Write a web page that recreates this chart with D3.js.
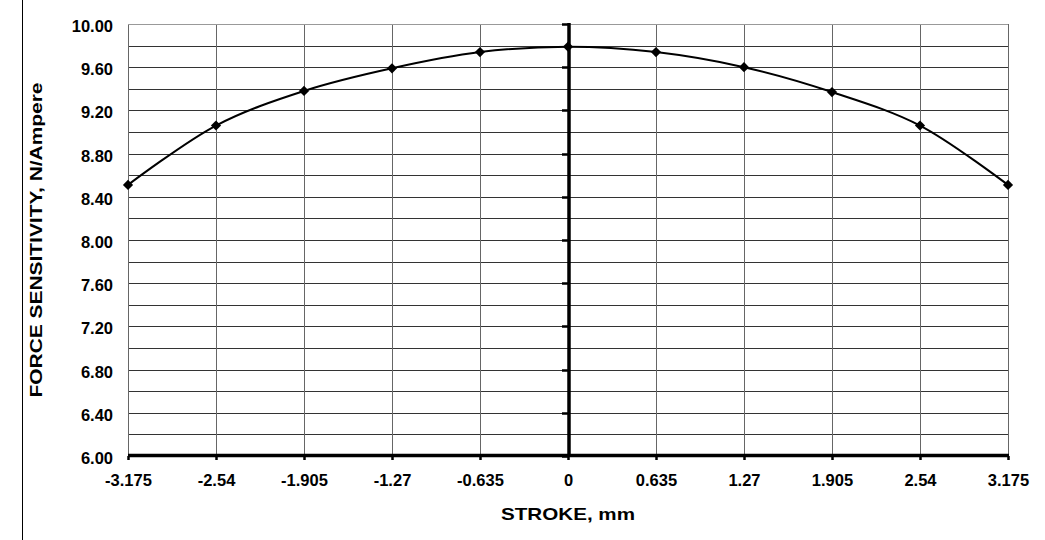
<!DOCTYPE html>
<html>
<head>
<meta charset="utf-8">
<script src="https://cdn.jsdelivr.net/npm/d3@7"></script>
<style>
  body { margin: 0; background: #fff; }
  text { font-family: "Liberation Sans", Arial, sans-serif; font-weight: bold; fill: #000; }
</style>
</head>
<body>
<div id="chart"></div>
<script>
// stroke positions (mm) and force sensitivity (N/Ampere)
var categories = ["-3.175", "-2.54", "-1.905", "-1.27", "-0.635", "0", "0.635", "1.27", "1.905", "2.54", "3.175"];
var values = [8.51, 9.06, 9.38, 9.59, 9.74, 9.79, 9.74, 9.60, 9.37, 9.06, 8.51];
var yLabels = [6.0, 6.4, 6.8, 7.2, 7.6, 8.0, 8.4, 8.8, 9.2, 9.6, 10.0];
var yGrid = [6.2, 6.4, 6.6, 6.8, 7.0, 7.2, 7.4, 7.6, 7.8, 8.0, 8.2, 8.4, 8.6, 8.8, 9.0, 9.2, 9.4, 9.6, 9.8];

var width = 1045, height = 540;
var plot = { left: 128, right: 1008, top: 24, bottom: 456 };

var svg = d3.select("#chart").append("svg")
    .attr("width", width)
    .attr("height", height);

var x = d3.scalePoint().domain(categories).range([plot.left, plot.right]);
var y = d3.scaleLinear().domain([6, 10]).range([plot.bottom, plot.top]);

// frame line on the far left
svg.append("line")
    .attr("x1", 22.5).attr("x2", 22.5)
    .attr("y1", 0).attr("y2", height)
    .attr("stroke", "#000").attr("stroke-width", 1);

// horizontal grid
svg.append("g").selectAll("line")
    .data(yGrid)
    .enter().append("line")
    .attr("x1", plot.left).attr("x2", plot.right)
    .attr("y1", function(d){ return Math.round(y(d)) + 0.5; })
    .attr("y2", function(d){ return Math.round(y(d)) + 0.5; })
    .attr("stroke", "#333").attr("stroke-width", 1);

// vertical grid
svg.append("g").selectAll("line")
    .data(categories)
    .enter().append("line")
    .attr("x1", function(d){ return Math.round(x(d)) + 0.5; })
    .attr("x2", function(d){ return Math.round(x(d)) + 0.5; })
    .attr("y1", plot.top).attr("y2", plot.bottom)
    .attr("stroke", "#666").attr("stroke-width", 1);

// top border
svg.append("line")
    .attr("x1", plot.left).attr("x2", plot.right)
    .attr("y1", plot.top + 0.5).attr("y2", plot.top + 0.5)
    .attr("stroke", "#999");

// y labels
var yAxis = svg.append("g")
    .attr("transform", "translate(" + plot.left + ",0)")
    .call(d3.axisLeft(y).tickValues(yLabels).tickFormat(d3.format(".2f")).tickSize(0).tickPadding(15));
yAxis.select(".domain").remove();
yAxis.selectAll("text")
    .attr("dy", "0.46em")
    .style("font-size", "16.5px")
    .style("font-family", "'Liberation Sans', Arial, sans-serif")
    .style("font-weight", "bold");

// x labels
var xAxis = svg.append("g")
    .attr("transform", "translate(0," + plot.bottom + ")")
    .call(d3.axisBottom(x).tickSize(0).tickPadding(18));
xAxis.select(".domain").remove();
xAxis.selectAll("text")
    .style("font-size", "16.5px")
    .style("font-family", "'Liberation Sans', Arial, sans-serif")
    .style("font-weight", "bold");

// bottom axis (thick) with ticks
svg.append("line")
    .attr("x1", plot.left).attr("x2", plot.right + 1)
    .attr("y1", plot.bottom - 0.5).attr("y2", plot.bottom - 0.5)
    .attr("stroke", "#000").attr("stroke-width", 3.5);
svg.append("g").selectAll("line")
    .data(categories)
    .enter().append("line")
    .attr("x1", function(d){ return x(d) + 0.5; })
    .attr("x2", function(d){ return x(d) + 0.5; })
    .attr("y1", plot.bottom).attr("y2", plot.bottom + 4)
    .attr("stroke", "#000").attr("stroke-width", 2.5);

// centre vertical axis at stroke 0
var x0 = x("0") + 1;
svg.append("line")
    .attr("x1", x0).attr("x2", x0)
    .attr("y1", plot.top - 1).attr("y2", plot.bottom)
    .attr("stroke", "#000").attr("stroke-width", 3.5);
svg.append("g").selectAll("line")
    .data(yLabels)
    .enter().append("line")
    .attr("x1", x0 - 7).attr("x2", x0)
    .attr("y1", function(d){ return Math.round(y(d)) + 0.5; })
    .attr("y2", function(d){ return Math.round(y(d)) + 0.5; })
    .attr("stroke", "#000").attr("stroke-width", 2.5);

// series line
var line = d3.line()
    .x(function(d, i){ return x(categories[i]); })
    .y(function(d){ return y(d); })
    .curve(d3.curveCatmullRom.alpha(0.5));
svg.append("path")
    .datum(values)
    .attr("d", line)
    .attr("fill", "none")
    .attr("stroke", "#000")
    .attr("stroke-width", 2);

// diamond markers
var marker = d3.symbol().type(d3.symbolSquare).size(52);
svg.append("g").selectAll("path")
    .data(values)
    .enter().append("path")
    .attr("d", marker)
    .attr("transform", function(d, i){ return "translate(" + x(categories[i]) + "," + y(d) + ") rotate(45)"; })
    .attr("fill", "#000");

// axis titles
svg.append("text")
    .attr("x", x("0"))
    .attr("y", 520)
    .attr("text-anchor", "middle")
    .attr("textLength", 134)
    .attr("lengthAdjust", "spacingAndGlyphs")
    .style("font-size", "17px")
    .text("STROKE, mm");

svg.append("text")
    .attr("transform", "translate(42," + ((plot.top + plot.bottom) / 2) + ") rotate(-90)")
    .attr("text-anchor", "middle")
    .attr("textLength", 315)
    .attr("lengthAdjust", "spacingAndGlyphs")
    .style("font-size", "17px")
    .text("FORCE SENSITIVITY, N/Ampere");
</script>
</body>
</html>
